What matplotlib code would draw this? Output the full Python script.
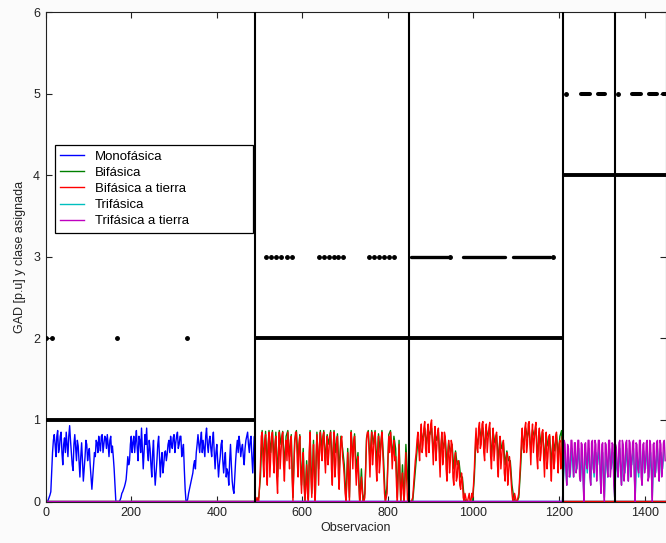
import numpy as np
import matplotlib
matplotlib.use("Agg")
import matplotlib.pyplot as plt

plt.rcParams['font.family'] = ['Liberation Sans', 'DejaVu Sans']

# ---------------- data ----------------
boundaries = [490, 850, 1210, 1330]
xlim_max = 1450

# observation grids
x_seg1 = np.arange(0, 490, 2)       # Monofásica block
x_seg2 = np.arange(490, 850, 2)     # Bifásica block 1
x_seg3 = np.arange(850, 1210, 2)    # Bifásica block 2
x_seg4 = np.arange(1210, 1450, 2)   # Trifásica block
x_seg2c = np.arange(490, 850, 4)    # coarser grid for hidden series
x_seg3c = np.arange(850, 1210, 4)
x_seg4c = np.arange(1210, 1450, 4)

mono_seg1 = [
    0.0, 0.0, 0.0, 0.02, 0.05, 0.08, 0.12, 0.35, 0.6, 0.75, 0.82, 0.7, 0.55, 0.8, 0.87, 0.6, 0.65, 0.8, 0.85, 0.6,
    0.45, 0.7, 0.78, 0.6, 0.85, 0.7, 0.55, 0.8, 0.93, 0.75, 0.6, 0.45, 0.38, 0.7, 0.82, 0.65, 0.5, 0.75, 0.68, 0.5,
    0.3, 0.55, 0.72, 0.5, 0.25, 0.4, 0.55, 0.75, 0.7, 0.5, 0.6, 0.65, 0.45, 0.3, 0.15, 0.3, 0.45, 0.6, 0.55, 0.75,
    0.72, 0.6, 0.8, 0.7, 0.62, 0.8, 0.82, 0.6, 0.7, 0.8, 0.78, 0.65, 0.82, 0.7, 0.55, 0.75, 0.8, 0.6, 0.68, 0.55,
    0.4, 0.2, 0.0, 0.0, 0.0, 0.0, 0.0, 0.02, 0.05, 0.1, 0.12, 0.15, 0.18, 0.22, 0.27, 0.4, 0.55, 0.45, 0.5, 0.7,
    0.8, 0.6, 0.72, 0.8, 0.6, 0.75, 0.87, 0.65, 0.5, 0.8, 0.75, 0.6, 0.9, 0.65, 0.4, 0.6, 0.82, 0.7, 0.9, 0.6,
    0.5, 0.75, 0.65, 0.45, 0.3, 0.6, 0.75, 0.4, 0.2, 0.35, 0.5, 0.7, 0.8, 0.55, 0.3, 0.5, 0.6, 0.35, 0.45, 0.6,
    0.62, 0.5, 0.58, 0.7, 0.75, 0.6, 0.8, 0.7, 0.65, 0.78, 0.82, 0.6, 0.72, 0.8, 0.85, 0.65, 0.7, 0.8, 0.8, 0.55,
    0.62, 0.7, 0.4, 0.15, 0.0, 0.0, 0.03, 0.1, 0.15, 0.2, 0.25, 0.3, 0.35, 0.45, 0.5, 0.4, 0.6, 0.7, 0.82, 0.7,
    0.6, 0.75, 0.85, 0.6, 0.75, 0.65, 0.55, 0.8, 0.9, 0.7, 0.6, 0.75, 0.8, 0.65, 0.55, 0.75, 0.85, 0.6, 0.4, 0.6,
    0.7, 0.5, 0.3, 0.45, 0.55, 0.7, 0.75, 0.5, 0.35, 0.5, 0.6, 0.3, 0.4, 0.35, 0.2, 0.5, 0.7, 0.45, 0.25, 0.15,
    0.1, 0.3, 0.5, 0.65, 0.75, 0.6, 0.8, 0.7, 0.55, 0.65, 0.7, 0.55, 0.45, 0.65, 0.75, 0.8, 0.85, 0.7, 0.6, 0.75,
    0.8, 0.55, 0.35, 0.6, 0.8]

bif_seg2 = [0.0, 0.0, 0.05, 0.3, 0.87, 0.5, 0.86, 0.45, 0.87, 0.6,
            0.87, 0.5, 0.85, 0.3, 0.87, 0.7, 0.86, 0.45, 0.8, 0.87,
            0.55, 0.82, 0.05, 0.75, 0.87, 0.5, 0.82, 0.2, 0.65, 0.0,
            0.5, 0.05, 0.87, 0.1, 0.75, 0.0, 0.85, 0.4, 0.87, 0.65,
            0.87, 0.5, 0.82, 0.7, 0.87, 0.4, 0.87, 0.6, 0.83, 0.35,
            0.8, 0.65, 0.45, 0.0, 0.65, 0.05, 0.87, 0.55, 0.83, 0.4,
            0.6, 0.0, 0.4, 0.0, 0.1, 0.78, 0.87, 0.5, 0.87, 0.7,
            0.87, 0.45, 0.83, 0.6, 0.87, 0.5, 0.0, 0.2, 0.82, 0.87,
            0.55, 0.8, 0.65, 0.05, 0.75, 0.0, 0.45, 0.0, 0.7, 0.3]
bif_seg3 = [0.0, 0.0, 0.0, 0.25, 0.5, 0.75, 0.6, 0.85, 0.75, 0.9,
            0.7, 0.88, 0.82, 0.9, 0.6, 0.85, 0.75, 0.85, 0.5, 0.8,
            0.65, 0.78, 0.45, 0.72, 0.6, 0.7, 0.4, 0.62, 0.45, 0.5,
            0.3, 0.3, 0.05, 0.0, 0.0, 0.0, 0.0, 0.0, 0.3, 0.8,
            0.7, 0.9, 0.78, 0.9, 0.65, 0.88, 0.8, 0.9, 0.55, 0.85,
            0.72, 0.82, 0.5, 0.78, 0.65, 0.72, 0.45, 0.62, 0.5, 0.5,
            0.2, 0.05, 0.0, 0.0, 0.05, 0.4, 0.82, 0.7, 0.9, 0.78,
            0.9, 0.6, 0.88, 0.8, 0.9, 0.55, 0.85, 0.7, 0.84, 0.5,
            0.82, 0.68, 0.8, 0.45, 0.78, 0.62, 0.83, 0.55, 0.8, 0.87]

bift_seg2 = [
    0.0, 0.0, 0.05, 0.0, 0.0, 0.2, 0.45, 0.8, 0.85, 0.5, 0.3, 0.75, 0.82, 0.4, 0.2, 0.7, 0.85, 0.3, 0.55, 0.8,
    0.85, 0.5, 0.35, 0.7, 0.8, 0.3, 0.1, 0.6, 0.85, 0.4, 0.6, 0.8, 0.85, 0.45, 0.25, 0.6, 0.75, 0.5, 0.85, 0.6,
    0.4, 0.75, 0.8, 0.3, 0.0, 0.4, 0.7, 0.85, 0.85, 0.5, 0.3, 0.7, 0.8, 0.35, 0.1, 0.4, 0.6, 0.2, 0.0, 0.2,
    0.45, 0.1, 0.0, 0.6, 0.85, 0.3, 0.05, 0.4, 0.7, 0.2, 0.0, 0.55, 0.82, 0.6, 0.2, 0.7, 0.85, 0.6, 0.5, 0.8,
    0.85, 0.55, 0.35, 0.65, 0.8, 0.45, 0.6, 0.8, 0.85, 0.4, 0.2, 0.65, 0.85, 0.3, 0.45, 0.75, 0.8, 0.35, 0.15, 0.5,
    0.75, 0.8, 0.55, 0.45, 0.3, 0.1, 0.0, 0.25, 0.6, 0.3, 0.0, 0.5, 0.85, 0.65, 0.4, 0.75, 0.8, 0.45, 0.2, 0.4,
    0.55, 0.2, 0.0, 0.1, 0.3, 0.15, 0.0, 0.0, 0.05, 0.4, 0.75, 0.85, 0.85, 0.6, 0.3, 0.65, 0.85, 0.45, 0.6, 0.8,
    0.85, 0.45, 0.25, 0.6, 0.8, 0.35, 0.5, 0.75, 0.85, 0.6, 0.35, 0.1, 0.0, 0.05, 0.1, 0.5, 0.8, 0.6, 0.85, 0.7,
    0.4, 0.6, 0.75, 0.5, 0.55, 0.2, 0.0, 0.35, 0.7, 0.3, 0.0, 0.2, 0.35, 0.1, 0.0, 0.3, 0.6, 0.25, 0.0, 0.0]
bift_seg3 = [
    0.0, 0.0, 0.0, 0.02, 0.05, 0.2, 0.35, 0.5, 0.6, 0.75, 0.85, 0.65, 0.5, 0.8, 0.95, 0.6, 0.7, 0.9, 0.98, 0.65,
    0.55, 0.85, 0.95, 0.6, 0.8, 0.95, 1.0, 0.7, 0.45, 0.75, 0.92, 0.5, 0.65, 0.85, 0.9, 0.55, 0.3, 0.7, 0.85, 0.45,
    0.55, 0.85, 0.8, 0.4, 0.25, 0.6, 0.75, 0.35, 0.5, 0.75, 0.7, 0.3, 0.2, 0.5, 0.6, 0.25, 0.3, 0.5, 0.45, 0.2,
    0.15, 0.35, 0.25, 0.05, 0.0, 0.1, 0.05, 0.0, 0.0, 0.05, 0.1, 0.0, 0.0, 0.1, 0.05, 0.2, 0.4, 0.7, 0.9, 0.65,
    0.6, 0.9, 0.97, 0.65, 0.7, 0.95, 0.98, 0.6, 0.5, 0.85, 0.95, 0.6, 0.75, 0.9, 0.97, 0.55, 0.4, 0.75, 0.9, 0.5,
    0.65, 0.8, 0.85, 0.45, 0.3, 0.65, 0.8, 0.4, 0.55, 0.7, 0.75, 0.35, 0.25, 0.5, 0.6, 0.2, 0.35, 0.55, 0.45, 0.25,
    0.1, 0.0, 0.0, 0.1, 0.05, 0.0, 0.0, 0.05, 0.1, 0.3, 0.5, 0.75, 0.9, 0.65, 0.6, 0.9, 0.97, 0.6, 0.7, 0.95,
    0.98, 0.7, 0.45, 0.8, 0.95, 0.6, 0.75, 0.9, 0.97, 0.55, 0.4, 0.8, 0.9, 0.5, 0.6, 0.85, 0.88, 0.55, 0.3, 0.65,
    0.85, 0.4, 0.55, 0.8, 0.82, 0.45, 0.25, 0.6, 0.8, 0.4, 0.5, 0.8, 0.85, 0.55, 0.35, 0.7, 0.75, 0.4, 0.55, 0.8]

tri_seg4 = [0.25, 0.6, 0.2, 0.55, 0.3, 0.65, 0.3, 0.6, 0.4, 0.65,
            0.25, 0.6, 0.05, 0.6, 0.35, 0.65, 0.2, 0.62, 0.3, 0.6,
            0.45, 0.65, 0.1, 0.6, 0.05, 0.6, 0.3, 0.65, 0.4, 0.6,
            0.05, 0.55, 0.3, 0.65, 0.2, 0.6, 0.35, 0.65, 0.25, 0.62,
            0.45, 0.65, 0.05, 0.6, 0.3, 0.65, 0.2, 0.62, 0.4, 0.65,
            0.3, 0.6, 0.05, 0.62, 0.35, 0.65, 0.25, 0.6, 0.4, 0.65]
trit_seg4 = [
    0.3, 0.75, 0.7, 0.4, 0.2, 0.7, 0.65, 0.3, 0.35, 0.75, 0.75, 0.5, 0.3, 0.72, 0.72, 0.35, 0.45, 0.75, 0.75, 0.3,
    0.25, 0.72, 0.7, 0.3, 0.0, 0.7, 0.72, 0.45, 0.4, 0.75, 0.75, 0.3, 0.2, 0.72, 0.75, 0.4, 0.35, 0.75, 0.7, 0.25,
    0.5, 0.75, 0.75, 0.35, 0.1, 0.7, 0.72, 0.2, 0.0, 0.72, 0.7, 0.45, 0.3, 0.75, 0.75, 0.3, 0.45, 0.72, 0.7, 0.2,
    0.05, 0.7, 0.65, 0.4, 0.3, 0.72, 0.75, 0.35, 0.2, 0.75, 0.7, 0.25, 0.4, 0.72, 0.75, 0.45, 0.25, 0.75, 0.72, 0.3,
    0.5, 0.72, 0.75, 0.3, 0.0, 0.72, 0.7, 0.4, 0.35, 0.75, 0.75, 0.3, 0.2, 0.7, 0.72, 0.35, 0.45, 0.72, 0.75, 0.25,
    0.3, 0.75, 0.7, 0.35, 0.0, 0.7, 0.72, 0.3, 0.4, 0.72, 0.75, 0.4, 0.25, 0.75, 0.7, 0.3, 0.45, 0.72, 0.75, 0.5]

# class reference (thick black line): value per block
class_x_start = [0, 490, 1210]
class_x_end = [490, 1210, 1450]
class_value = [1, 2, 4]

# assigned-class isolated dots
dots_x = [0, 14, 166, 331,
          515, 527, 539, 551, 563, 575,
          640, 651, 662, 673, 684, 695,
          755, 767, 779, 791, 803, 815,
          945, 1187, 1217, 1337]
dots_y = [2, 2, 2, 2,
          3, 3, 3, 3, 3, 3,
          3, 3, 3, 3, 3, 3,
          3, 3, 3, 3, 3, 3,
          3, 3, 5, 5]
# assigned-class dense runs
runs_start = [855, 975, 1092, 1252, 1290, 1370, 1410, 1442]
runs_end = [940, 1073, 1178, 1272, 1308, 1391, 1428, 1450]
runs_y = [3, 3, 3, 5, 5, 5, 5, 5]

labels = ['Monofásica', 'Bifásica', 'Bifásica a tierra', 'Trifásica',
          'Trifásica a tierra']
colors = ['#0000ff', '#008000', '#ff0000', '#00bfbf', '#bf00bf']

# ---------------- assemble (zero outside own block) ----------------
zero_pair = [0.0, 0.0]
series_x = [
    np.concatenate([x_seg1, [490, 1450]]),
    np.concatenate([[0, 488], x_seg2c, x_seg3c, [1210, 1450]]),
    np.concatenate([[0, 488], x_seg2, x_seg3, [1210, 1450]]),
    np.concatenate([[0, 1208], x_seg4c]),
    np.concatenate([[0, 1208], x_seg4]),
]
series_y = [
    np.concatenate([mono_seg1, zero_pair]),
    np.concatenate([zero_pair, bif_seg2, bif_seg3, zero_pair]),
    np.concatenate([zero_pair, bift_seg2, bift_seg3, zero_pair]),
    np.concatenate([zero_pair, tri_seg4]),
    np.concatenate([zero_pair, trit_seg4]),
]

fig = plt.figure(figsize=(6.66, 5.43), dpi=100, facecolor='#fbfbfb')
ax = fig.add_axes([0.0686, 0.0764, 0.9314, 0.9015])
ax.set_facecolor('white')

for xs, ys, c, l in zip(series_x, series_y, colors, labels):
    ax.plot(xs, ys, color=c, lw=1.0, label=l)

for xb in boundaries:
    ax.axvline(xb, color='black', lw=1.5, zorder=5)

for xs, xe, v in zip(class_x_start, class_x_end, class_value):
    ax.plot([xs, xe], [v, v], color='black', lw=2.8, solid_capstyle='butt',
            zorder=6)

ax.plot(dots_x, dots_y, linestyle='none', marker='o', ms=2.5,
        color='black', zorder=6)
for xs, xe, v in zip(runs_start, runs_end, runs_y):
    ax.plot([xs, xe], [v, v], color='black', lw=(2.9 if v == 5 else 2.4),
            solid_capstyle='round', zorder=6)

ax.set_xlim(0, xlim_max)
ax.set_ylim(0, 6)
ax.set_xticks(np.arange(0, 1401, 200))
ax.set_yticks(np.arange(0, 7, 1))
ax.tick_params(direction='in', length=4, width=0.8, top=True, right=True,
               labelsize=9, colors='#222222', pad=4)
for sp in ax.spines.values():
    sp.set_color('#222222')
    sp.set_linewidth(0.8)

ax.set_xlabel('Observacion', fontsize=9, labelpad=2, color='#222222')
ax.set_ylabel('GAD [p.u] y clase asignada', fontsize=9, labelpad=5,
              color='#222222')

leg = ax.legend(loc='upper left', bbox_to_anchor=(0.015, 0.5, 0.319, 0.228),
                mode='expand', borderaxespad=0, fontsize=9.5, handlelength=1.8,
                handletextpad=0.8, labelspacing=0.3, borderpad=0.4,
                fancybox=False, framealpha=1, edgecolor='black')
leg.get_frame().set_linewidth(0.9)
for line in leg.get_lines():
    line.set_linewidth(1.0)
leg.set_zorder(10)

fig.savefig('out.png', dpi=100, facecolor=fig.get_facecolor())
